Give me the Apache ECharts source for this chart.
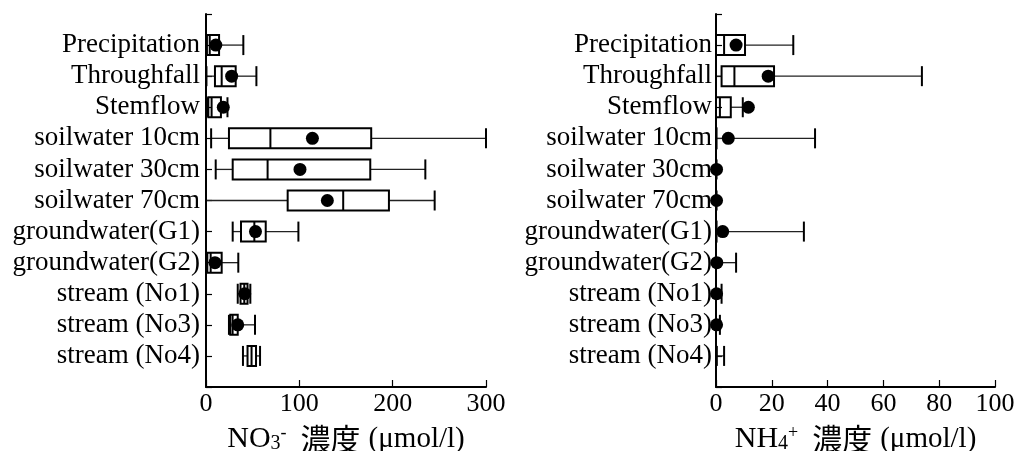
<!DOCTYPE html>
<html><head><meta charset="utf-8">
<script src="https://cdn.jsdelivr.net/npm/echarts@6/dist/echarts.min.js"></script>
<style>html,body{margin:0;padding:0;background:#fff}#c{width:1015px;height:451px}</style>
</head><body><div id="c"></div>
<script>
const categories = ['Precipitation','Throughfall','Stemflow','soilwater 10cm','soilwater 30cm','soilwater 70cm','groundwater(G1)','groundwater(G2)','stream (No1)','stream (No3)','stream (No4)'];
// [min, q1, median, q3, max]
const no3Stats = [
  [0, 1, 4, 14, 40],
  [0.5, 9.6, 16.8, 31.8, 54],
  [1.5, 2.5, 6, 16, 23],
  [5.5, 24.6, 69, 177, 300],
  [10.4, 28.6, 66, 176, 235],
  [0, 87.5, 147, 196, 245],
  [28.6, 37.5, 51.8, 64, 99],
  [0, 1.4, 5, 16.8, 34.6],
  [34, 37, 41, 44.5, 47.5],
  [24.6, 26, 28.5, 34, 52.5],
  [39.6, 44.5, 48.8, 53.6, 57.9]
];
const no3Means = [10.5, 27.5, 18.5, 114, 100.7, 130, 53, 9.6, 41.5, 34, null];
const nh4Stats = [
  [0, 0, 2.9, 10.4, 27.7],
  [0, 2, 6.6, 20.8, 73.8],
  [0, 0, 1.4, 5.3, 9.6],
  [0, 0, 0, 0.2, 35.5],
  [0, 0, 0, 0, 0.2],
  [0, 0, 0, 0, 0.2],
  [0, 0, 0, 0.2, 31.5],
  [0, 0, 0, 0, 7.2],
  [0, 0, 0, 0, 2],
  [0, 0, 0, 0, 1.4],
  [0.3, 0.3, 0.3, 0.3, 2.9]
];
const nh4Means = [7.2, 18.7, 11.6, 4.4, 0.2, 0.2, 2.4, 0.3, 0.2, 0.2, null];
const no3Ticks = [0, 100, 200, 300];
const nh4Ticks = [0, 20, 40, 60, 80, 100];

const FONT = "'Liberation Serif', 'Noto Sans CJK JP', serif";
const axisCats = [''].concat(categories, ['']);

function boxData(stats) {
  return stats.map((s, i) => [i + 1].concat(s));
}
function meanData(means) {
  return means.map((m, i) => m == null ? null : [m, i + 1]).filter(d => d);
}
function renderBox(params, api) {
  const y = api.value(0);
  const vals = [1, 2, 3, 4, 5].map(k => api.value(k));
  const p = vals.map(v => api.coord([v, y]));
  const cy = p[0][1];
  const h = 10;
  const line = (x1, y1, x2, y2, w, c) => ({type: 'line', shape: {x1, y1, x2, y2}, style: {stroke: c || '#000', lineWidth: w}});
  const children = [];
  children.push(line(p[0][0], cy, p[1][0], cy, 1.3, '#222'));
  children.push(line(p[3][0], cy, p[4][0], cy, 1.3, '#222'));
  children.push(line(p[0][0], cy - h, p[0][0], cy + h, 2));
  children.push(line(p[4][0], cy - h, p[4][0], cy + h, 2));
  if (p[3][0] - p[1][0] > 0.5) {
    children.push({type: 'rect', shape: {x: p[1][0], y: cy - h, width: p[3][0] - p[1][0], height: 2 * h}, style: {fill: 'none', stroke: '#000', lineWidth: 2}});
    children.push(line(p[2][0], cy - h, p[2][0], cy + h, 2));
  }
  return {type: 'group', children};
}
function xAxis(gi, ticks, rich) {
  return {
    type: 'value', gridIndex: gi, min: ticks[0], max: ticks[ticks.length - 1], interval: ticks[1] - ticks[0],
    axisLine: {show: true, onZero: false, lineStyle: {color: '#000', width: 2}},
    axisTick: {show: true, inside: true, length: 7, lineStyle: {color: '#000', width: 1.2}},
    axisLabel: {color: '#000', fontFamily: FONT, fontSize: 26, margin: 4},
    splitLine: {show: false},
    name: rich, nameLocation: 'middle', nameGap: 35,
    nameTextStyle: {
      color: '#000', fontFamily: FONT, fontSize: 28,
      rich: {
        a: {fontFamily: FONT, fontSize: 30, color: '#000', lineHeight: 34},
        sub: {fontFamily: FONT, fontSize: 20, color: '#000', lineHeight: 34, padding: [10, 0, 0, 0]},
        sup: {fontFamily: FONT, fontSize: 18, color: '#000', lineHeight: 34, padding: [0, 0, 12, 0]},
        k: {fontFamily: "'Noto Sans CJK JP', sans-serif", fontSize: 30, color: '#000', lineHeight: 34, padding: [0, 8, 0, 14]},
        b: {fontFamily: FONT, fontSize: 29, color: '#000', lineHeight: 34}
      }
    }
  };
}
function yAxis(gi, margin) {
  return {
    type: 'category', gridIndex: gi, data: axisCats, inverse: true, boundaryGap: false,
    axisLine: {show: true, lineStyle: {color: '#000', width: 2}},
    axisTick: {show: true, inside: true, length: 6, interval: 0, lineStyle: {color: '#000', width: 1.2}},
    axisLabel: {color: '#000', fontFamily: FONT, fontSize: 27, margin: margin, interval: 0},
    splitLine: {show: false}
  };
}

const chart = echarts.init(document.getElementById('c'), null, {renderer: 'canvas'});
chart.setOption({
  backgroundColor: '#fff',
  animation: false,
  grid: [
    {left: 206, top: 14, width: 280, height: 373, containLabel: false, outerBoundsMode: 'none'},
    {left: 716, top: 14, width: 279, height: 373, containLabel: false, outerBoundsMode: 'none'}
  ],
  xAxis: [
    xAxis(0, no3Ticks, '{a|NO}{sub|3}{sup|-}{k|濃度}{b|(μmol/l)}'),
    xAxis(1, nh4Ticks, '{a|NH}{sub|4}{sup|+}{k|濃度}{b|(μmol/l)}')
  ],
  yAxis: [yAxis(0, 6), yAxis(1, 4)],
  series: [
    {type: 'custom', xAxisIndex: 0, yAxisIndex: 0, renderItem: renderBox, data: boxData(no3Stats), encode: {x: [1, 2, 3, 4, 5], y: 0}, clip: false, z: 2},
    {type: 'custom', xAxisIndex: 1, yAxisIndex: 1, renderItem: renderBox, data: boxData(nh4Stats), encode: {x: [1, 2, 3, 4, 5], y: 0}, clip: false, z: 2},
    {type: 'scatter', xAxisIndex: 0, yAxisIndex: 0, data: meanData(no3Means), symbol: 'circle', symbolSize: 13, itemStyle: {color: '#000', opacity: 1}, z: 3},
    {type: 'scatter', xAxisIndex: 1, yAxisIndex: 1, data: meanData(nh4Means), symbol: 'circle', symbolSize: 13, itemStyle: {color: '#000', opacity: 1}, z: 3}
  ]
});
</script>
</body></html>
